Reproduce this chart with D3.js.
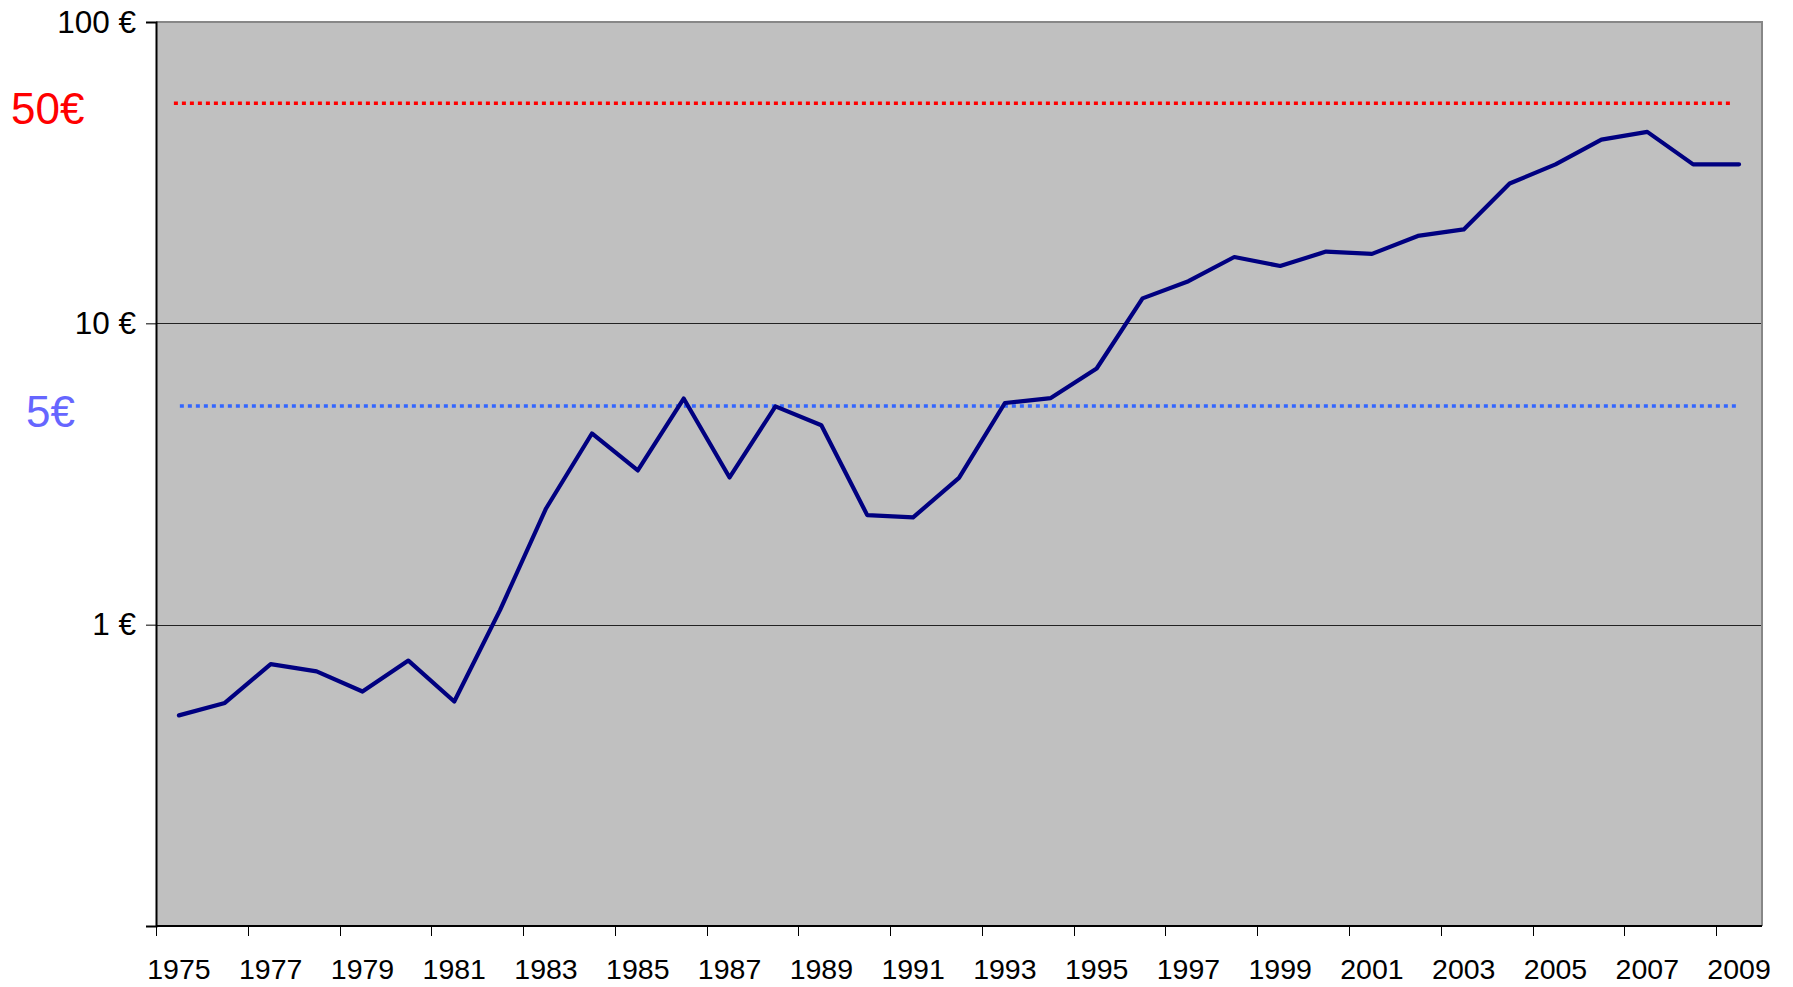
<!DOCTYPE html>
<html>
<head>
<meta charset="utf-8">
<script src="https://cdn.jsdelivr.net/npm/d3@7"></script>
<style>
  body { margin: 0; background: #fff; }
  text { font-family: "Liberation Sans", Arial, sans-serif; }
</style>
</head>
<body>
<div id="chart"></div>
<script>
// years on the category axis
var years = d3.range(1975, 2010);

// price in euros
var prices = [0.50, 0.55, 0.74, 0.70, 0.60, 0.76, 0.556, 1.12, 2.43, 4.31,
              3.25, 5.63, 3.08, 5.30, 4.59, 2.31, 2.27, 3.07, 5.44, 5.65,
              7.08, 12.1, 13.8, 16.6, 15.5, 17.3, 17.0, 19.5, 20.5, 29.1,
              33.7, 40.7, 43.2, 33.7, 33.7];

// y ticks
var yTicks = [0.1, 1, 10, 100];

// reference lines (dotted)
var refValues = [53.7, 5.32];
var refLabels = ["50€", "5€"];
var refColors = ["#ff0000", "#3366ff"];
var refLabelColors = ["#ff0000", "#6666ff"];
var refStart = [0.39, 0.52];   // in category units
var refEnd = [34.3, 34.45];

var W = 1793, H = 987;
var margin = { top: 22, right: 31, bottom: 61, left: 156 },
    width = W - margin.left - margin.right,
    height = H - margin.top - margin.bottom;

var svg = d3.select("#chart").append("svg")
    .attr("width", W)
    .attr("height", H);

var g = svg.append("g")
    .attr("transform", "translate(" + margin.left + "," + margin.top + ")");

var x = d3.scaleBand()
    .domain(years)
    .range([0, width])
    .padding(0);

var xi = d3.scaleLinear()
    .domain([0, years.length])
    .range([0, width]);

var y = d3.scaleLog()
    .domain([0.1, 100])
    .range([height, 0]);

// plot background
g.append("rect")
    .attr("width", width)
    .attr("height", height)
    .attr("fill", "#c0c0c0");

// gridlines
g.selectAll(".grid")
    .data([1, 10])
    .enter().append("line")
    .attr("class", "grid")
    .attr("x1", 0)
    .attr("x2", width)
    .attr("y1", function(d) { return Math.round(y(d)) + 0.5; })
    .attr("y2", function(d) { return Math.round(y(d)) + 0.5; })
    .attr("stroke", "#222")
    .attr("stroke-width", 1);

// top/right border
g.append("path")
    .attr("d", "M0,0H" + width + "V" + height)
    .attr("fill", "none")
    .attr("stroke", "#878787")
    .attr("stroke-width", 2);

// reference lines
refValues.forEach(function(v, i) {
    g.append("line")
        .attr("x1", xi(refStart[i]))
        .attr("x2", xi(refEnd[i]))
        .attr("y1", y(v))
        .attr("y2", y(v))
        .attr("stroke", refColors[i])
        .attr("stroke-width", 3.5)
        .attr("stroke-dasharray", "4 4");
});

// the price line
var line = d3.line()
    .x(function(d, i) { return x(years[i]) + x.bandwidth() / 2; })
    .y(function(d) { return y(d); });

g.append("path")
    .datum(prices)
    .attr("d", line)
    .attr("fill", "none")
    .attr("stroke", "#000080")
    .attr("stroke-width", 4.2)
    .attr("stroke-linejoin", "round")
    .attr("stroke-linecap", "round");

// y axis
var yAxis = g.append("g")
    .call(d3.axisLeft(y)
        .tickValues(yTicks)
        .tickSize(10)
        .tickPadding(10)
        .tickFormat(function(d) { return d >= 1 ? d + " €" : ""; }));
yAxis.select(".domain").attr("stroke", "#000").attr("stroke-width", 2);
yAxis.selectAll(".tick line").attr("stroke", "#000");
yAxis.selectAll(".tick text")
    .style("font-size", "31.5px")
    .attr("fill", "#000");

// x axis: ticks on category boundaries, labels centred
var xAxis = g.append("g")
    .attr("transform", "translate(0," + height + ")");
xAxis.append("line")
    .attr("x1", 0)
    .attr("x2", width)
    .attr("stroke", "#000")
    .attr("stroke-width", 2);
var labelYears = years.filter(function(d, i) { return i % 2 == 0; });
xAxis.selectAll(".xtick")
    .data(labelYears)
    .enter().append("line")
    .attr("class", "xtick")
    .attr("x1", function(d) { return Math.round(x(d)) + 0.5; })
    .attr("x2", function(d) { return Math.round(x(d)) + 0.5; })
    .attr("y1", 0)
    .attr("y2", 10)
    .attr("stroke", "#000");
xAxis.selectAll(".xlabel")
    .data(labelYears)
    .enter().append("text")
    .attr("class", "xlabel")
    .attr("x", function(d) { return x(d) + x.bandwidth() / 2; })
    .attr("y", 53)
    .attr("text-anchor", "middle")
    .style("font-size", "28.5px")
    .attr("fill", "#000")
    .text(function(d) { return d; });

// labels for the reference lines
var refX = [11, 26];
refValues.forEach(function(v, i) {
    svg.append("text")
        .attr("x", refX[i])
        .attr("y", margin.top + y(v) + 21)
        .style("font-size", "44px")
        .attr("fill", refLabelColors[i])
        .text(refLabels[i]);
});
</script>
</body>
</html>
